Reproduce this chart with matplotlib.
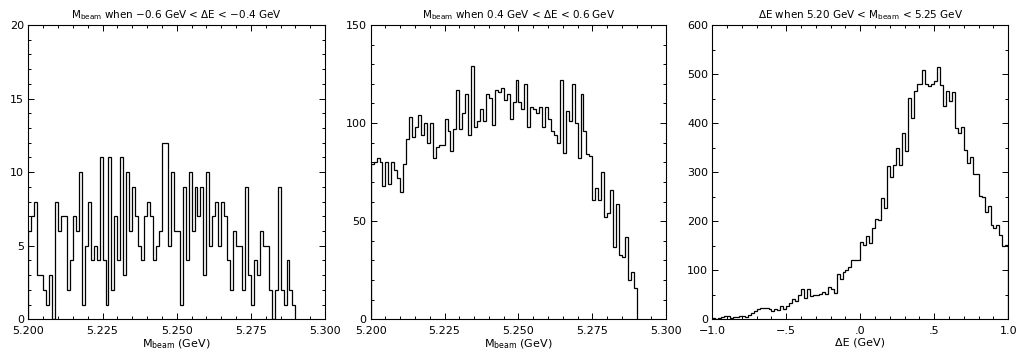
import numpy as np
import matplotlib
matplotlib.use("Agg")
import matplotlib.pyplot as plt
from matplotlib.ticker import MultipleLocator, FixedLocator

plt.rcParams["font.family"] = ["DejaVu Sans"]
plt.rcParams["mathtext.default"] = "regular"

# Mbeam counts, -0.6 < dE < -0.4 GeV (1 MeV bins from 5.200)
mbc_lowde = [6, 7, 8, 3, 3, 2, 1, 3, 0, 8,
             6, 7, 7, 2, 4, 7, 6, 10, 1, 5,
             8, 4, 5, 4, 11, 4, 1, 11, 2, 7,
             4, 11, 3, 10, 6, 9, 7, 5, 4, 7,
             8, 7, 4, 5, 6, 12, 12, 5, 10, 6,
             6, 1, 9, 4, 10, 6, 9, 7, 9, 3,
             10, 5, 7, 8, 5, 8, 7, 4, 2, 6,
             5, 5, 2, 9, 3, 1, 4, 3, 6, 5,
             5, 2, 0, 2, 9, 2, 1, 4, 2, 1]

# Mbeam counts, 0.4 < dE < 0.6 GeV
mbc_highde = [79, 80, 82, 80, 68, 80, 69, 80, 76, 72,
              65, 79, 92, 103, 93, 98, 104, 94, 100, 90,
              100, 82, 88, 89, 89, 102, 96, 86, 97, 117,
              97, 105, 115, 94, 129, 98, 101, 107, 101, 115,
              113, 99, 117, 116, 118, 112, 115, 102, 111, 122,
              111, 107, 120, 98, 108, 107, 105, 108, 98, 108,
              102, 96, 94, 90, 122, 85, 106, 101, 120, 100,
              82, 115, 96, 84, 83, 61, 67, 61, 75, 52,
              54, 66, 37, 59, 33, 32, 42, 20, 24, 16]

# dE counts, 5.20 < Mbeam < 5.25 GeV (20 MeV bins from -1.0)
de_counts = [2, 1, 3, 4, 7, 7, 3, 4, 5, 6,
             6, 5, 8, 12, 17, 22, 23, 23, 23, 22,
             16, 22, 19, 27, 20, 27, 34, 42, 37, 50,
             62, 43, 62, 47, 49, 49, 51, 56, 51, 65,
             61, 54, 92, 82, 96, 101, 106, 120, 120, 120,
             158, 151, 170, 155, 187, 204, 202, 248, 226, 312,
             290, 315, 349, 315, 380, 344, 451, 411, 466, 480,
             480, 508, 480, 475, 480, 485, 515, 478, 435, 466,
             445, 464, 390, 380, 392, 346, 319, 331, 296, 296,
             252, 249, 218, 231, 192, 186, 192, 171, 149, 152]

mbc_lo, mbc_bin = 5.200, 0.001
de_lo, de_bin = -1.0, 0.02

mbc_ticks = [5.200, 5.225, 5.250, 5.275, 5.300]
mbc_ticklabels = ["5.200", "5.225", "5.250", "5.275", "5.300"]
de_ticks = [-1.0, -0.5, 0.0, 0.5, 1.0]
de_ticklabels = ["\u22121.0", "\u2212.5", ".0", ".5", "1.0"]

mbeam = r"M$_{beam}$"
titles = [mbeam + " when \u22120.6 GeV < \u0394E < \u22120.4 GeV",
          mbeam + " when 0.4 GeV < \u0394E < 0.6 GeV",
          "\u0394E when 5.20 GeV < " + mbeam + " < 5.25 GeV"]
xlabels = [mbeam + " (GeV)", mbeam + " (GeV)", "\u0394E (GeV)"]


def edges(lo, width, n):
    return lo + width * np.arange(n + 1)


fig = plt.figure(figsize=(10.2, 3.56), dpi=100)
bottom, height = 0.1031, 0.8267
ax1 = fig.add_axes([0.0278, bottom, 0.2909, height])
ax2 = fig.add_axes([0.3634, bottom, 0.2898, height])
ax3 = fig.add_axes([0.6983, bottom, 0.2902, height])

ax1.stairs(mbc_lowde, edges(mbc_lo, mbc_bin, len(mbc_lowde)), color="k", lw=0.9)
ax2.stairs(mbc_highde, edges(mbc_lo, mbc_bin, len(mbc_highde)), color="k", lw=0.9)
ax3.stairs(de_counts, edges(de_lo, de_bin, len(de_counts)), color="k", lw=0.9)

ax1.set_ylim(0, 20)
ax1.yaxis.set_major_locator(MultipleLocator(5))
ax1.yaxis.set_minor_locator(MultipleLocator(1))
ax2.set_ylim(0, 150)
ax2.yaxis.set_major_locator(MultipleLocator(50))
ax2.yaxis.set_minor_locator(MultipleLocator(10))
ax3.set_ylim(0, 600)
ax3.yaxis.set_major_locator(MultipleLocator(100))
ax3.yaxis.set_minor_locator(MultipleLocator(50))

for ax in (ax1, ax2):
    ax.set_xlim(5.2, 5.3)
    ax.xaxis.set_major_locator(FixedLocator(mbc_ticks))
    ax.set_xticklabels(mbc_ticklabels)
    ax.xaxis.set_minor_locator(MultipleLocator(0.005))
ax3.set_xlim(-1, 1)
ax3.xaxis.set_major_locator(FixedLocator(de_ticks))
ax3.set_xticklabels(de_ticklabels)
ax3.xaxis.set_minor_locator(MultipleLocator(0.1))

for ax, title, xlabel in zip((ax1, ax2, ax3), titles, xlabels):
    ax.set_title(title, fontsize=7.5, pad=5)
    ax.set_xlabel(xlabel, fontsize=8, labelpad=1)
    ax.tick_params(which="both", direction="in", top=True, right=True,
                   labelsize=8, width=0.7, color="k")
    ax.tick_params(which="major", length=4.3)
    ax.tick_params(axis="x", which="major", pad=5)
    ax.tick_params(axis="y", which="major", pad=3)
    ax.tick_params(which="minor", length=2.3)
    for sp in ax.spines.values():
        sp.set_linewidth(0.8)

fig.savefig("out.png", dpi=100)
